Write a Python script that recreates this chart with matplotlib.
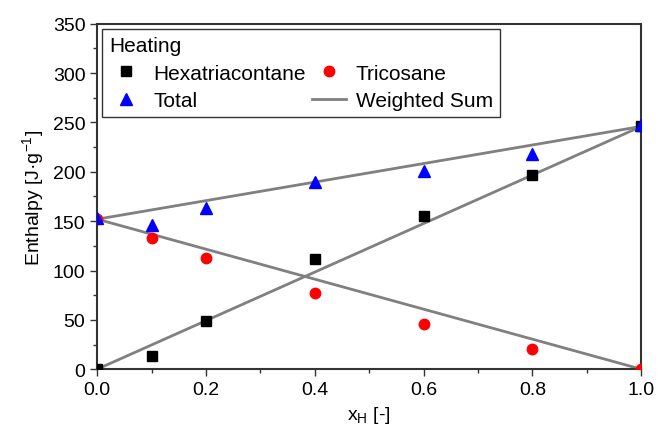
import numpy as np
import matplotlib.pyplot as plt

plt.rcParams['font.family'] = ['Liberation Sans', 'DejaVu Sans']

x_h = [0.0, 0.1, 0.2, 0.4, 0.6, 0.8, 1.0]
hexa = [0, 13, 49, 112, 155, 197, 246]
trico = [152, 133, 113, 77, 46, 20, 0]
total = [153, 146, 163, 190, 201, 218, 247]

# weighted sum lines (pure component endpoints)
ws_x = [0.0, 1.0]
ws_hexa = [0, 246]
ws_trico = [152, 0]
ws_total = [152, 246]

fig = plt.figure(figsize=(6.57, 4.35), dpi=100)
ax = fig.add_axes([0.148, 0.149, 0.828, 0.794])

grey = '#808080'
ax.plot(ws_x, ws_hexa, color=grey, lw=2, zorder=2)
ax.plot(ws_x, ws_trico, color=grey, lw=2, zorder=2)
ln, = ax.plot(ws_x, ws_total, color=grey, lw=2, zorder=2, label='Weighted Sum')

h1, = ax.plot(x_h, hexa, 's', color='black', ms=7, ls='none', label='Hexatriacontane', zorder=3)
h2, = ax.plot(x_h, trico, 'o', color='red', ms=7.5, ls='none', label='Tricosane', zorder=3)
h3, = ax.plot(x_h, total, '^', color='blue', ms=8, ls='none', label='Total', zorder=3)

ax.set_xlim(0, 1)
ax.set_ylim(0, 350)
ax.set_xticks(np.arange(0, 1.01, 0.2))
ax.set_xticks(np.arange(0, 1.01, 0.1), minor=True)
ax.set_yticks(np.arange(0, 351, 50))
ax.set_yticks(np.arange(0, 351, 25), minor=True)
ax.xaxis.set_major_formatter(plt.FormatStrFormatter('%.1f'))

ax.tick_params(which='major', direction='out', length=5, width=1, labelsize=14, colors='#333333', labelcolor='black')
ax.tick_params(which='minor', direction='out', length=3, width=1, colors='#333333')
for s in ax.spines.values():
    s.set_linewidth(1.5)
    s.set_color('#333333')

ax.set_xlabel('x$_\\mathregular{H}$ [-]', fontsize=14)
ax.set_ylabel('Enthalpy [J·g$^\\mathregular{-1}$]', fontsize=14)

leg = ax.legend(handles=[h1, h3, h2, ln], ncol=2, title='Heating', loc='upper left',
                bbox_to_anchor=(0.009, 0.985, 0.732, 0), mode='expand',
                fontsize=15, title_fontsize=15, fancybox=False, edgecolor='#333333',
                framealpha=1, handlelength=1.6, handletextpad=0.5,
                borderaxespad=0, borderpad=0.35, labelspacing=0.4)
leg._legend_box.align = 'left'
leg.get_frame().set_linewidth(1.0)

fig.savefig('out.png', dpi=100)
